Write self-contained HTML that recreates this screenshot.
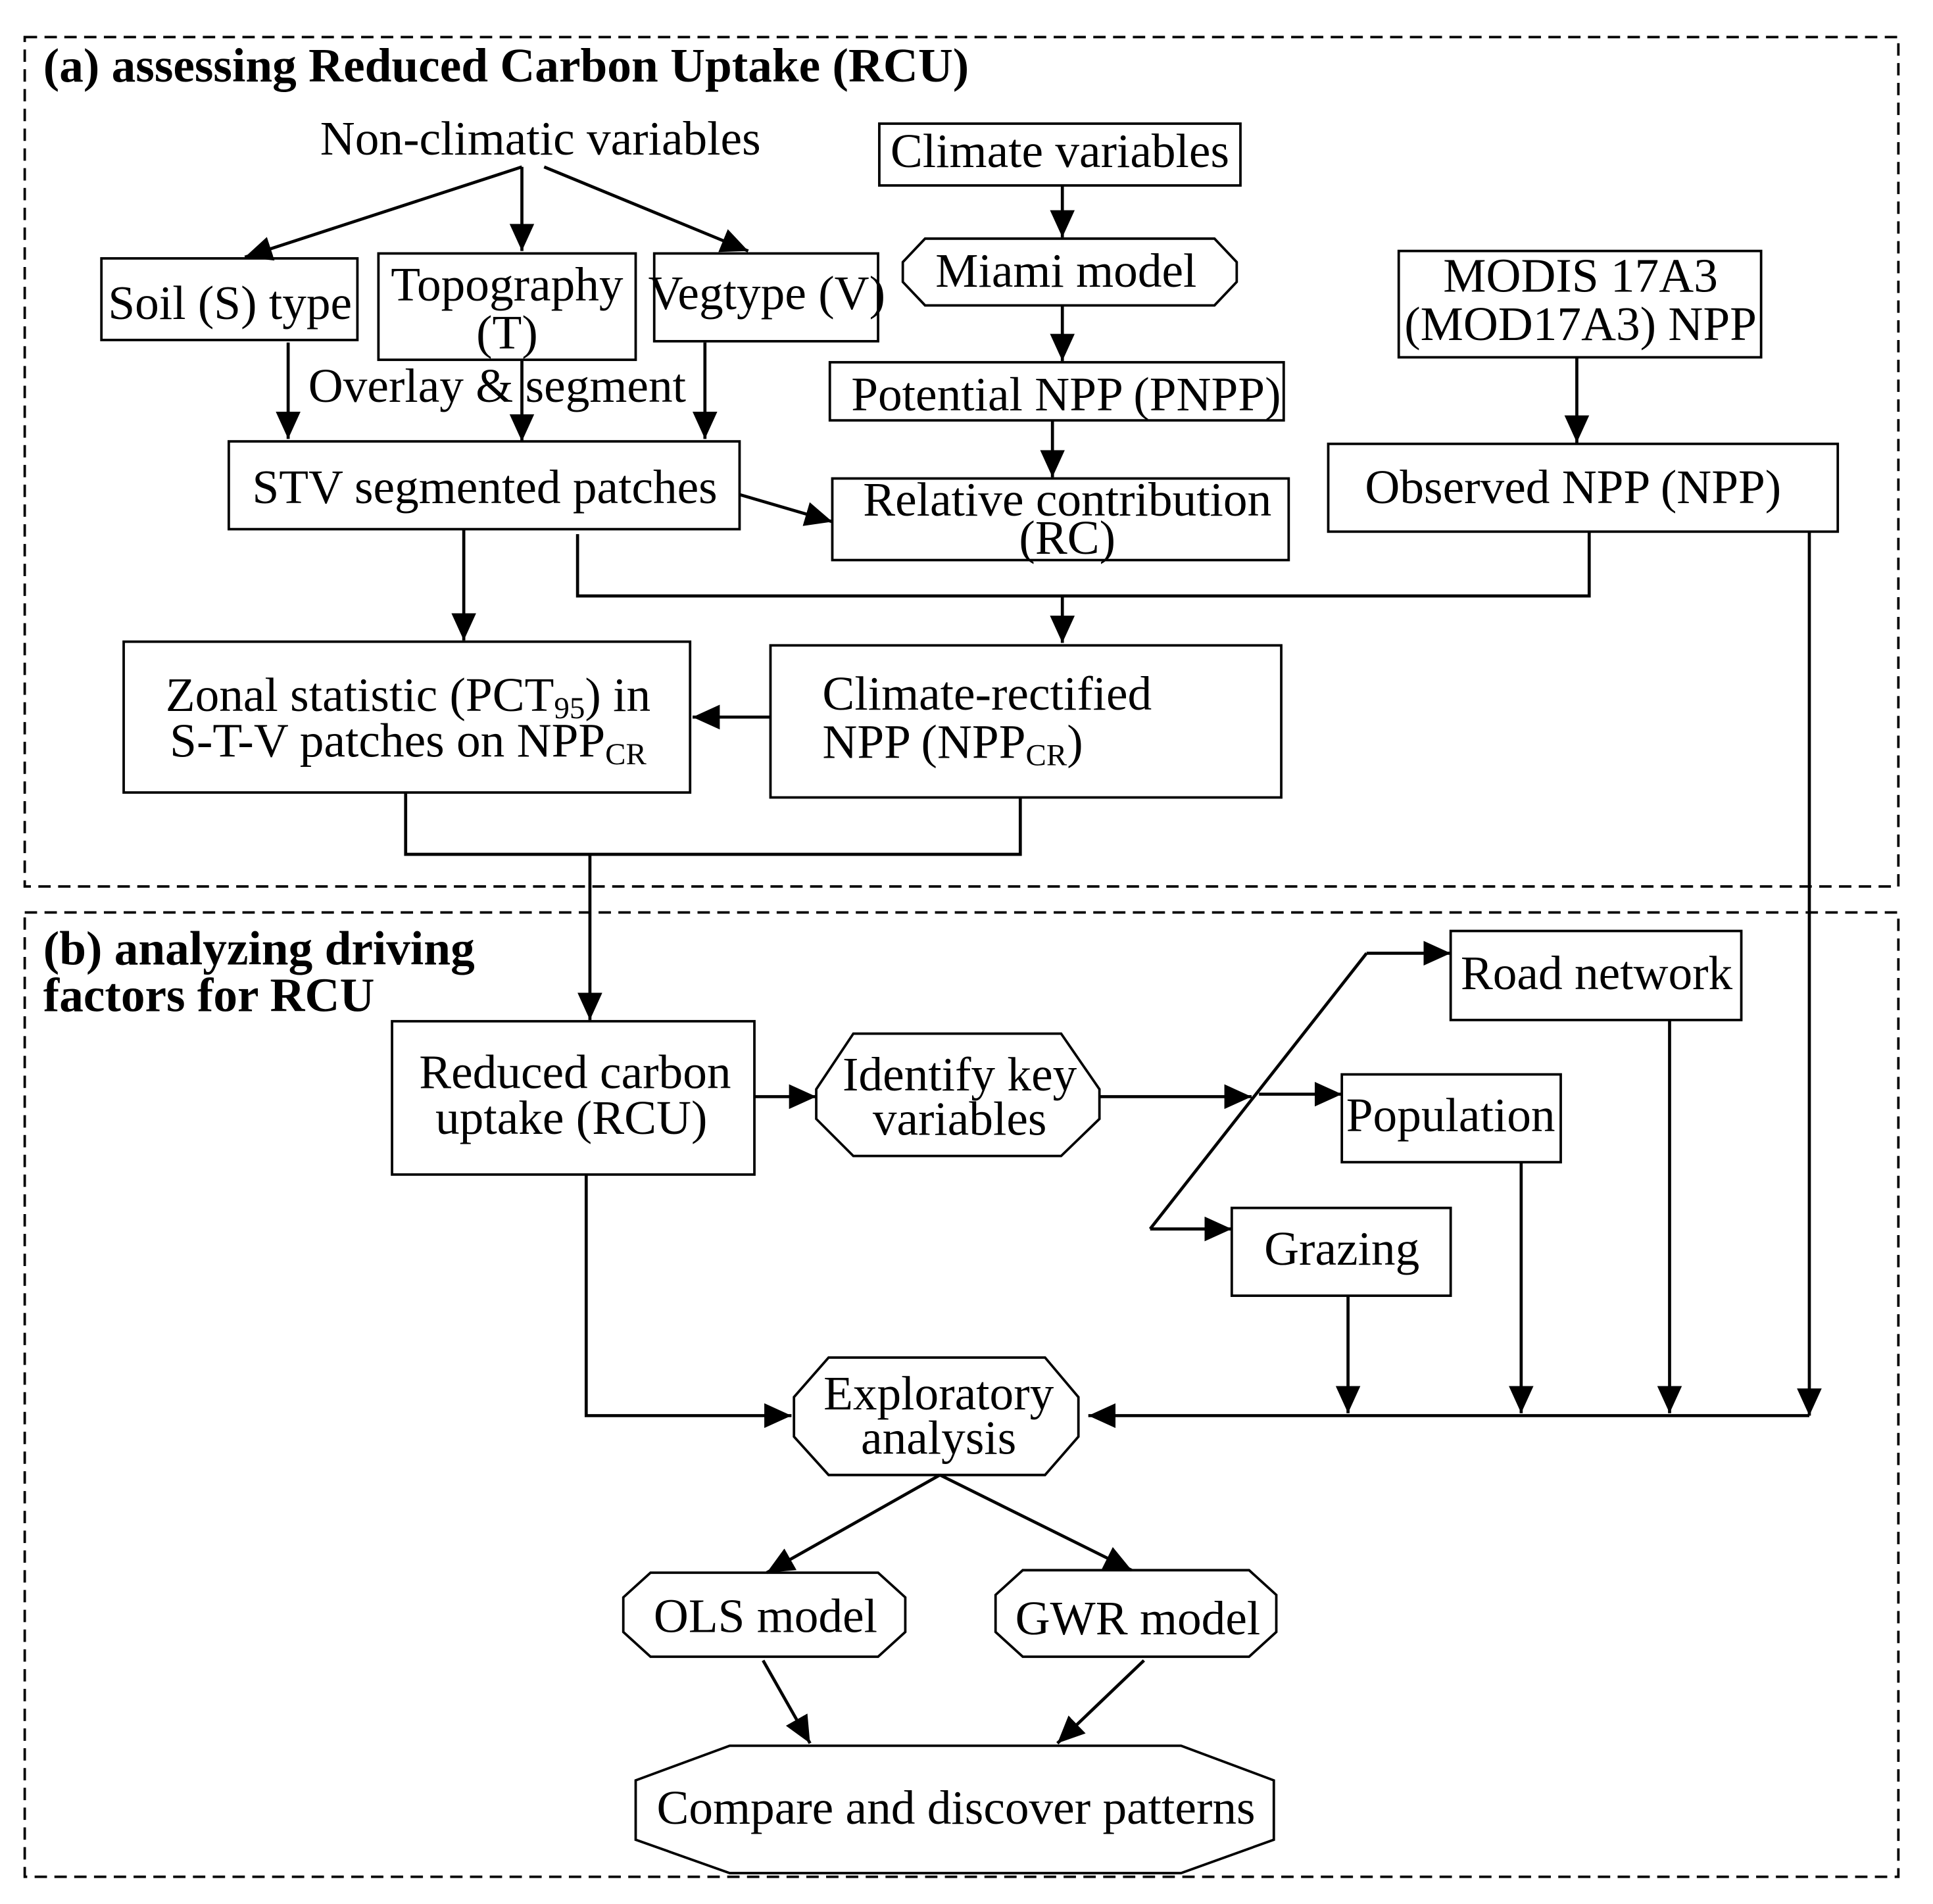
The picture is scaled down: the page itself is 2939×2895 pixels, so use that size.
<!DOCTYPE html>
<html><head><meta charset="utf-8"><style>
html,body{margin:0;padding:0;background:#fff;}
svg{display:block;}
text{font-family:"Liberation Serif",serif;font-size:39px;fill:#000;}
.b{font-weight:bold;font-size:39px;}
</style></head><body>
<svg width="2939" height="2895" viewBox="0 0 1563 1540" preserveAspectRatio="none" xmlns="http://www.w3.org/2000/svg">
<defs>
<marker id="m" markerWidth="22" markerHeight="20" refX="22" refY="10" orient="auto" markerUnits="userSpaceOnUse"><path d="M0,0 L22,10 L0,20z" fill="#000"/></marker></defs>
<g fill="none" stroke="#000" stroke-width="2">
<rect x="20" y="30" width="1515" height="687" stroke-dasharray="10,6"/>
<rect x="20" y="738" width="1515" height="780" stroke-dasharray="10,6"/>
<rect x="82" y="209" width="207" height="66"/>
<rect x="306" y="205" width="208" height="86"/>
<rect x="529" y="205" width="181" height="71"/>
<rect x="711" y="100" width="292" height="50"/>
<polygon points="748,193 982,193 1000,212 1000,228 982,247 748,247 730,228 730,212"/>
<rect x="671" y="293" width="367" height="47"/>
<rect x="673" y="387" width="369" height="66"/>
<rect x="1131" y="203" width="293" height="86"/>
<rect x="1074" y="359" width="412" height="71"/>
<rect x="185" y="357" width="413" height="71"/>
<rect x="100" y="519" width="458" height="122"/>
<rect x="623" y="522" width="413" height="123"/>
<rect x="317" y="826" width="293" height="124"/>
<polygon points="690,836 858,836 889,881 889,905 858,935 690,935 660,905 660,881"/>
<rect x="1173" y="753" width="235" height="72"/>
<rect x="1085" y="869" width="177" height="71"/>
<rect x="996" y="977" width="177" height="71"/>
<polygon points="670,1098 845,1098 872,1130 872,1162 845,1193 670,1193 642,1162 642,1130"/>
<polygon points="526,1272 710,1272 732,1292 732,1320 710,1340 526,1340 504,1320 504,1292"/>
<polygon points="827,1270 1010,1270 1032,1290 1032,1320 1010,1340 827,1340 805,1320 805,1290"/>
<polygon points="598,1412 955,1412 1030,1440 1030,1488 955,1515 590,1515 514,1488 514,1440 590,1412"/>
</g>
<g fill="none" stroke="#000" stroke-width="2.5" marker-end="url(#m)">
<line x1="422" y1="135" x2="198" y2="208"/>
<line x1="422" y1="135" x2="422" y2="203"/>
<line x1="440" y1="135" x2="605" y2="203"/>
<line x1="859" y1="150" x2="859" y2="192"/>
<line x1="859" y1="247" x2="859" y2="292"/>
<line x1="851" y1="340" x2="851" y2="386"/>
<line x1="1275" y1="289" x2="1275" y2="358"/>
<line x1="233" y1="277" x2="233" y2="355"/>
<line x1="422" y1="292" x2="422" y2="357"/>
<line x1="570" y1="277" x2="570" y2="355"/>
<line x1="598" y1="400" x2="673" y2="422"/>
<line x1="859" y1="482" x2="859" y2="520"/>
<line x1="375" y1="428" x2="375" y2="518"/>
<line x1="623" y1="580" x2="560" y2="580"/>
<line x1="477" y1="691" x2="477" y2="825"/>
<line x1="1463" y1="430" x2="1463" y2="1145"/>
<line x1="610" y1="887" x2="660" y2="887"/>
<line x1="889" y1="887" x2="1012" y2="887"/>
<line x1="1018" y1="885" x2="1085" y2="885"/>
<line x1="1105" y1="771" x2="1173" y2="771"/>
<line x1="930" y1="994" x2="996" y2="994"/>
<line x1="1090" y1="1048" x2="1090" y2="1143"/>
<line x1="1230" y1="940" x2="1230" y2="1143"/>
<line x1="1350" y1="825" x2="1350" y2="1143"/>
<line x1="1463" y1="1145" x2="880" y2="1145"/>
<polyline points="474,950 474,1145 640,1145"/>
<line x1="760" y1="1193" x2="620" y2="1272"/>
<line x1="760" y1="1193" x2="915" y2="1270"/>
<line x1="617" y1="1343" x2="655" y2="1410"/>
<line x1="925" y1="1343" x2="855" y2="1410"/>
</g>
<g fill="none" stroke="#000" stroke-width="2.5">
<polyline points="467,432 467,482 1285,482 1285,430"/>
<polyline points="328,641 328,691 825,691 825,645"/>
<polyline points="1105,771 930,994"/>
</g>
<text class="b" x="35" y="66">(a) assessing Reduced Carbon Uptake (RCU)</text>
<text class="b" x="35" y="780">(b) analyzing driving</text>
<text class="b" x="35" y="818">factors for RCU</text>
<g text-anchor="middle">
<text x="437" y="125">Non-climatic variables</text>
<text x="186" y="258">Soil (S) type</text>
<text x="410" y="243">Topography</text>
<text x="410" y="282">(T)</text>
<text x="620" y="250">Vegtype (V)</text>
<text x="857" y="135">Climate variables</text>
<text x="862" y="232">Miami model</text>
<text x="862" y="332">Potential NPP (PNPP)</text>
<text x="863" y="417">Relative contribution</text>
<text x="863" y="448">(RC)</text>
<text x="1278" y="236">MODIS 17A3</text>
<text x="1278" y="275">(MOD17A3) NPP</text>
<text x="1272" y="407">Observed NPP (NPP)</text>
<text x="402" y="325">Overlay &amp; segment</text>
<text x="392" y="407">STV segmented patches</text>
<text x="330" y="575">Zonal statistic (PCT<tspan font-size="25" dy="6">95</tspan><tspan dy="-6">) in</tspan></text>
<text x="330" y="612">S-T-V patches on NPP<tspan font-size="25" dy="6">CR</tspan></text>
<text x="465" y="880">Reduced carbon</text>
<text x="462" y="917">uptake (RCU)</text>
<text x="776" y="882">Identify key</text>
<text x="776" y="918">variables</text>
<text x="1291" y="800">Road network</text>
<text x="1173" y="915">Population</text>
<text x="1085" y="1023">Grazing</text>
<text x="759" y="1140">Exploratory</text>
<text x="759" y="1176">analysis</text>
<text x="619" y="1320">OLS model</text>
<text x="920" y="1322">GWR model</text>
<text x="773" y="1475">Compare and discover patterns</text>
</g>
<text x="665" y="574">Climate-rectified</text>
<text x="665" y="613">NPP  (NPP<tspan font-size="25" dy="6">CR</tspan><tspan dy="-6">)</tspan></text>
</svg>
</body></html>
